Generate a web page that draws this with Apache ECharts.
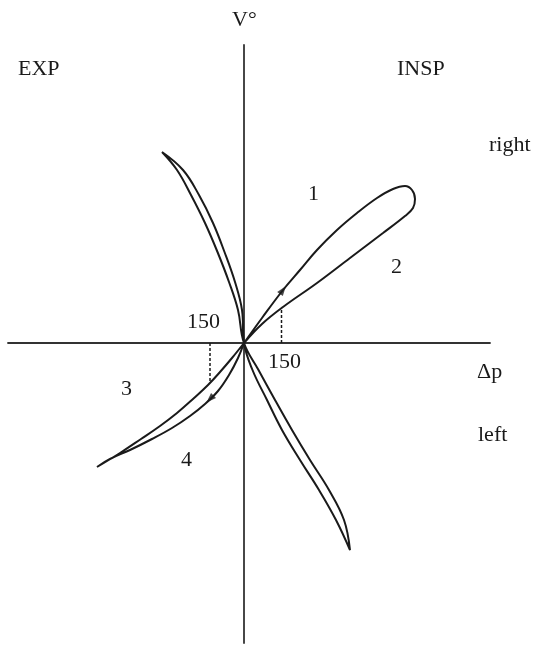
<!DOCTYPE html>
<html>
<head>
<meta charset="utf-8">
<script src="https://cdn.jsdelivr.net/npm/echarts@6/dist/echarts.min.js"></script>
<style>
  html, body { margin: 0; padding: 0; background: #fff; }
  #chart { width: 536px; height: 646px; }
</style>
</head>
<body>
<div id="chart"></div>
<script>
// Δp / V° values (arbitrary units, 150 = dashed marks)
const loopRight = [
  [0, 0], [72, 100], [156, 212], [224, 292], [292, 372], [372, 452],
  [452, 520], [532, 580], [596, 616], [644, 628], [672, 612], [684, 576],
  [676, 540], [644, 508], [556, 440], [424, 340], [292, 240], [156, 144],
  [72, 76], [0, 0]
];
const loopLeft = [
  [0, 0], [-48, -60], [-96, -116], [-144, -168], [-204, -224], [-268, -280],
  [-336, -332], [-412, -384], [-496, -440], [-588, -496],
  [-536, -464], [-456, -428], [-368, -384], [-288, -340], [-216, -292],
  [-156, -244], [-104, -192], [-60, -128], [-24, -60], [0, 0]
];
const loopCross = [
  [-328, 764], [-244, 692], [-180, 592], [-124, 480], [-78, 364], [-36, 244],
  [-8, 132], [0, 0], [34, -108], [92, -228], [152, -348], [224, -468],
  [300, -588], [368, -708], [424, -828], [400, -708], [340, -588], [264, -468],
  [192, -348], [124, -228], [58, -108], [0, 0], [-24, 132], [-60, 244],
  [-106, 364], [-156, 480], [-212, 592], [-268, 692], [-328, 764]
];
const dashRight = [[150, 0], [150, 140]];
const dashLeft = [[-136, 0], [-136, -160]];
const arrows = [
  { value: [156, 212], symbolRotate: -37 },
  { value: [-136, -224], symbolRotate: 135 }
];

const ink = '#1a1a1a';
const serif = '"Liberation Serif", "DejaVu Serif", serif';

const chart = echarts.init(document.getElementById('chart'));

const txt = (x, y, s) => ({
  type: 'text', left: x, top: y,
  style: { text: s, font: '22px ' + serif, fill: ink }
});

const loop = (data) => ({
  type: 'line', data: data, smooth: 0.4, symbol: 'none',
  lineStyle: { color: ink, width: 2 }, silent: true
});

const dash = (data) => ({
  type: 'line', data: data, symbol: 'none',
  lineStyle: { color: ink, width: 1.5, type: [3, 2] }, silent: true
});

chart.setOption({
  animation: false,
  backgroundColor: '#fff',
  grid: { left: 8, right: 46, top: 45, bottom: 3 },
  xAxis: {
    type: 'value', min: -944, max: 984,
    axisLine: { show: true, onZero: true, lineStyle: { color: '#333', width: 1.8 } },
    axisTick: { show: false }, axisLabel: { show: false }, splitLine: { show: false }
  },
  yAxis: {
    type: 'value', min: -1200, max: 1192,
    axisLine: { show: true, onZero: true, lineStyle: { color: '#333', width: 1.8 } },
    axisTick: { show: false }, axisLabel: { show: false }, splitLine: { show: false }
  },
  graphic: [
    txt(232, 9, 'V°'),
    txt(18, 58, 'EXP'),
    txt(397, 58, 'INSP'),
    txt(489, 134, 'right'),
    txt(477, 361, 'Δp'),
    txt(478, 424, 'left'),
    txt(308, 183, '1'),
    txt(391, 256, '2'),
    txt(121, 378, '3'),
    txt(181, 449, '4'),
    txt(187, 311, '150'),
    txt(268, 351, '150')
  ],
  series: [
    loop(loopRight),
    loop(loopLeft),
    loop(loopCross),
    dash(dashRight),
    dash(dashLeft),
    {
      type: 'scatter', data: arrows, symbol: 'triangle', symbolSize: [7, 10],
      itemStyle: { color: ink }, silent: true
    }
  ]
});
</script>
</body>
</html>
